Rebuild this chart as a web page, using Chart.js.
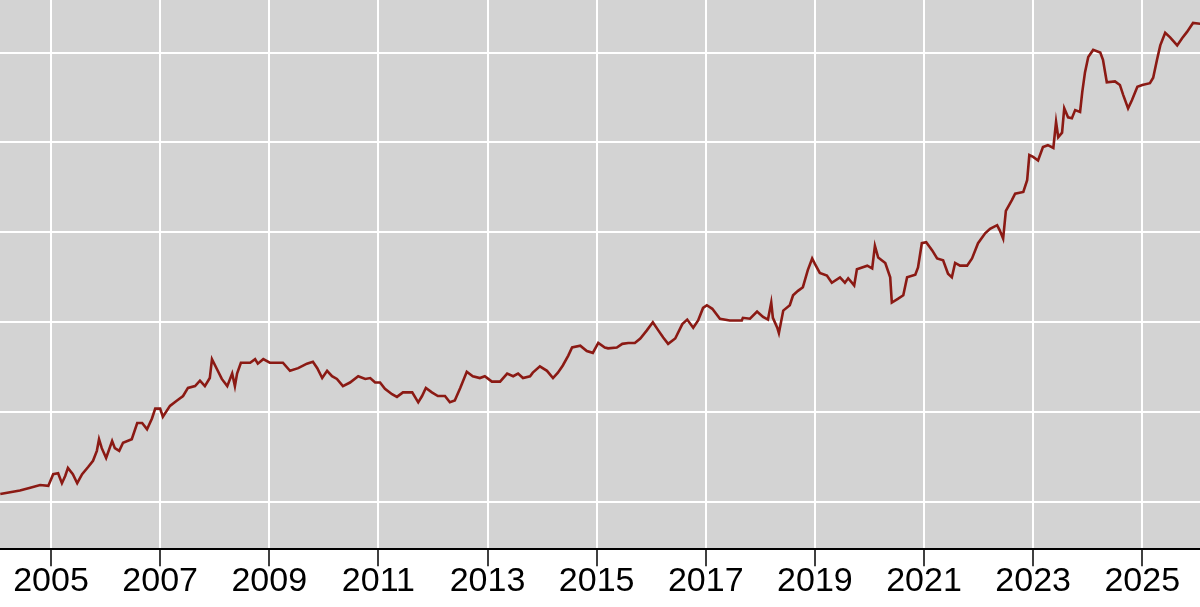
<!DOCTYPE html>
<html>
<head>
<meta charset="utf-8">
<script src="https://cdn.jsdelivr.net/npm/chart.js@4.4.1/dist/chart.umd.min.js"></script>
<style>
  html, body { margin: 0; padding: 0; background: #ffffff; }
  #c { display: block; }
</style>
</head>
<body>
<canvas id="c" width="1200" height="607"></canvas>
<script>
// Decimal-year positions of the readings
const years = [
  2004.07, 2004.25, 2004.43, 2004.62, 2004.80, 2004.95, 2005.04, 2005.13, 2005.20, 2005.26,
  2005.31, 2005.40, 2005.48, 2005.57, 2005.68, 2005.77, 2005.84, 2005.88, 2005.93, 2006.01,
  2006.12, 2006.17, 2006.25, 2006.32, 2006.48, 2006.58, 2006.67, 2006.76, 2006.85, 2006.91,
  2007.00, 2007.05, 2007.18, 2007.31, 2007.42, 2007.51, 2007.64, 2007.73, 2007.82, 2007.91,
  2007.95, 2008.04, 2008.13, 2008.23, 2008.32, 2008.37, 2008.41, 2008.48, 2008.65, 2008.74,
  2008.79, 2008.89, 2009.01, 2009.25, 2009.38, 2009.53, 2009.69, 2009.80, 2009.88, 2009.97,
  2010.06, 2010.15, 2010.24, 2010.35, 2010.48, 2010.63, 2010.76, 2010.85, 2010.94, 2011.03,
  2011.12, 2011.25, 2011.34, 2011.45, 2011.62, 2011.73, 2011.80, 2011.87, 2011.98, 2012.09,
  2012.22, 2012.31, 2012.40, 2012.50, 2012.62, 2012.73, 2012.86, 2012.95, 2013.08, 2013.23,
  2013.36, 2013.47, 2013.56, 2013.65, 2013.78, 2013.83, 2013.96, 2014.09, 2014.20, 2014.29,
  2014.38, 2014.48, 2014.55, 2014.70, 2014.82, 2014.93, 2015.03, 2015.15, 2015.21, 2015.37,
  2015.47, 2015.58, 2015.70, 2015.80, 2015.92, 2016.03, 2016.13, 2016.22, 2016.31, 2016.44,
  2016.57, 2016.66, 2016.77, 2016.86, 2016.95, 2017.02, 2017.12, 2017.26, 2017.44, 2017.66,
  2017.68, 2017.81, 2017.94, 2018.05, 2018.14, 2018.20, 2018.23, 2018.31, 2018.34, 2018.42,
  2018.54, 2018.60, 2018.69, 2018.78, 2018.87, 2018.95, 2019.00, 2019.09, 2019.22, 2019.31,
  2019.46, 2019.55, 2019.61, 2019.72, 2019.77, 2019.96, 2020.05, 2020.10, 2020.16, 2020.29,
  2020.38, 2020.41, 2020.52, 2020.62, 2020.69, 2020.84, 2020.89, 2020.96, 2021.04, 2021.15,
  2021.24, 2021.35, 2021.44, 2021.51, 2021.57, 2021.66, 2021.79, 2021.88, 2021.99, 2022.12,
  2022.21, 2022.34, 2022.39, 2022.45, 2022.50, 2022.61, 2022.67, 2022.82, 2022.89, 2022.93,
  2023.00, 2023.09, 2023.18, 2023.27, 2023.37, 2023.42, 2023.46, 2023.53, 2023.57, 2023.64,
  2023.71, 2023.77, 2023.86, 2023.90, 2023.95, 2024.01, 2024.10, 2024.23, 2024.28, 2024.35,
  2024.50, 2024.59, 2024.65, 2024.74, 2024.81, 2024.91, 2025.00, 2025.14, 2025.20, 2025.27,
  2025.33, 2025.42, 2025.51, 2025.64, 2025.73, 2025.82, 2025.93, 2026.06
];

// Series values
const values = [
  109, 111, 113, 116, 119, 118, 131, 132, 121, 129,
  138, 131, 121, 131, 139, 146, 157, 170, 160, 149,
  168, 160, 157, 166, 170, 188, 188, 181, 193, 204,
  204, 195, 207, 213, 218, 227, 229, 235, 229, 238,
  259, 248, 237, 229, 243, 229, 243, 255, 255, 259,
  254, 259, 255, 255, 246, 249, 254, 256, 249, 238,
  246, 240, 237, 229, 233, 240, 237, 238, 233, 233,
  226, 220, 217, 222, 222, 211, 218, 227, 222, 218,
  218, 211, 213, 227, 245, 240, 238, 240, 234, 234,
  243, 240, 243, 238, 240, 244, 251, 246, 238, 244,
  252, 263, 272, 274, 268, 266, 277, 272, 271, 272,
  276, 277, 277, 282, 291, 300, 291, 283, 276, 282,
  298, 303, 294, 302, 316, 319, 315, 304, 302, 302,
  305, 304, 312, 306, 303, 322, 305, 294, 288, 313,
  319, 330, 335, 339, 358, 371, 365, 355, 352, 344,
  350, 344, 349, 341, 359, 363, 360, 385, 372, 366,
  350, 322, 326, 330, 350, 353, 361, 388, 389, 380,
  371, 369, 354, 350, 366, 363, 363, 371, 388, 399,
  404, 408, 402, 393, 424, 436, 443, 445, 458, 486,
  484, 480, 495, 497, 494, 523, 506, 511, 538, 528,
  527, 536, 534, 556, 578, 595, 603, 600, 592, 567,
  568, 564, 553, 538, 547, 562, 564, 566, 572, 592,
  608, 622, 617, 608, 616, 623, 633, 632
];

// Axis tick values
const yearTicks = [2005, 2007, 2009, 2011, 2013, 2015, 2017, 2019, 2021, 2023, 2025];
const valueTicks = [100, 200, 300, 400, 500, 600];

const xMin = 2004.065, xMax = 2026.058;
const yMin = 47.6, yMax = 658.5;

const points = years.map((y, i) => ({ x: y, y: values[i] }));

const plotBg = {
  id: 'plotBg',
  beforeDraw(chart) {
    const { ctx, chartArea } = chart;
    ctx.save();
    ctx.fillStyle = '#d3d3d3';
    ctx.fillRect(chartArea.left, chartArea.top, chartArea.right - chartArea.left, chartArea.bottom - chartArea.top);
    ctx.restore();
  }
};

new Chart(document.getElementById('c'), {
  type: 'line',
  data: {
    datasets: [{
      data: points,
      borderColor: '#8b1a14',
      borderWidth: 2.6,
      pointRadius: 0,
      tension: 0,
      fill: false
    }]
  },
  options: {
    responsive: false,
    animation: false,
    layout: { padding: { left: 0, right: 0, top: 0, bottom: 10 } },
    plugins: { legend: { display: false }, tooltip: { enabled: false } },
    scales: {
      x: {
        type: 'linear',
        min: xMin,
        max: xMax,
        afterBuildTicks: (s) => { s.ticks = yearTicks.map(v => ({ value: v })); },
        grid: { color: '#ffffff', lineWidth: 2, tickColor: '#000000', tickLength: 17, tickWidth: 1.5 },
        border: { display: true, color: '#000000', width: 2 },
        ticks: {
          color: '#000000',
          padding: -5,
          maxRotation: 0,
          autoSkip: false,
          font: { family: 'Liberation Sans', size: 34 },
          callback: (v) => String(v)
        }
      },
      y: {
        type: 'linear',
        min: yMin,
        max: yMax,
        afterBuildTicks: (s) => { s.ticks = valueTicks.map(v => ({ value: v })); },
        grid: { color: '#ffffff', lineWidth: 2, drawTicks: false, tickLength: 0 },
        border: { display: false },
        ticks: { display: false }
      }
    }
  },
  plugins: [plotBg]
});
</script>
</body>
</html>
